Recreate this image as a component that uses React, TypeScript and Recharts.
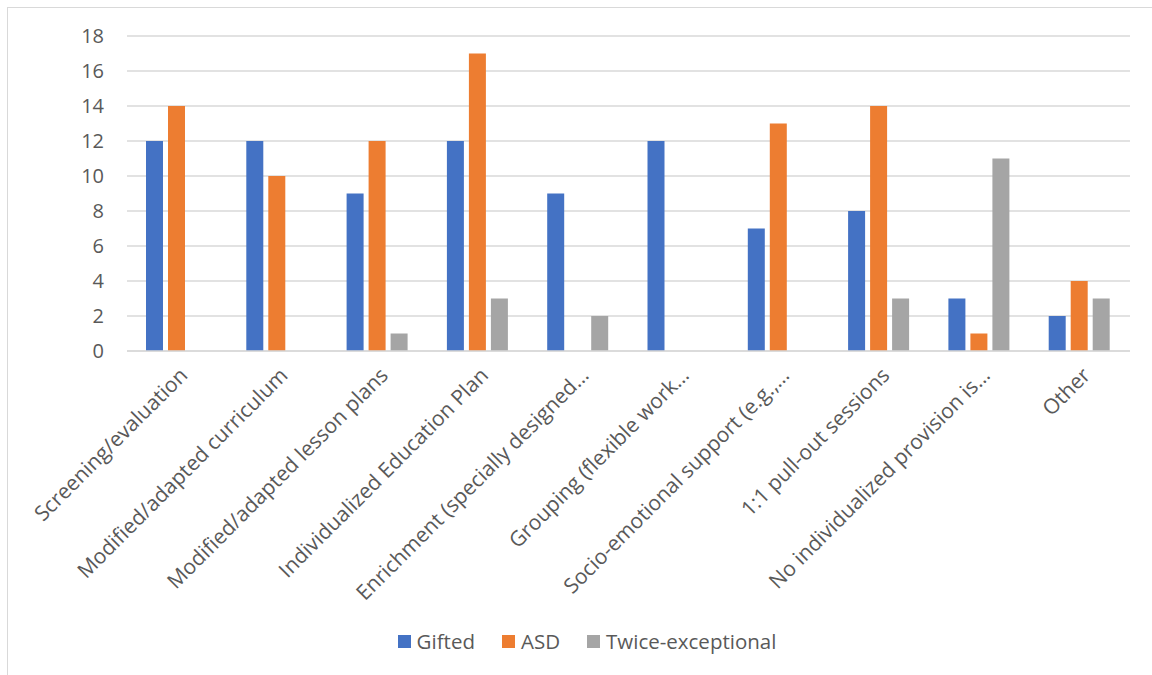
import React from "react";
import { BarChart, Bar, XAxis, YAxis, CartesianGrid } from "recharts";

const categories = [
  "Screening/evaluation",
  "Modified/adapted curriculum",
  "Modified/adapted lesson plans",
  "Individualized Education Plan",
  "Enrichment (specially designed…",
  "Grouping (flexible work…",
  "Socio-emotional support (e.g.,…",
  "1:1 pull-out sessions",
  "No individualized provision is…",
  "Other",
];
const gifted = [12, 12, 9, 12, 9, 12, 7, 8, 3, 2];
const asd = [14, 10, 12, 17, 0, 0, 13, 14, 1, 4];
const twice = [0, 0, 1, 3, 2, 0, 0, 3, 11, 3];
const yTicks = [0, 2, 4, 6, 8, 10, 12, 14, 16, 18];
const seriesNames = ["Gifted", "ASD", "Twice-exceptional"];
const seriesColors = ["#4472C4", "#ED7D31", "#A5A5A5"];

const data = categories.map((c, i) => ({
  name: c,
  Gifted: gifted[i],
  ASD: asd[i],
  "Twice-exceptional": twice[i],
}));

const FONT = "'Open Sans', sans-serif";
const TEXT = "#595959";

const XTick = (props: any) => {
  const { x, y, payload } = props;
  return (
    <g transform={`translate(${x + 6},${y + 12})`}>
      <text
        x={0}
        y={0}
        textAnchor="end"
        transform="rotate(-45)"
        fill={TEXT}
        fontSize={21}
        fontFamily={FONT}
        dominantBaseline="central"
      >
        {payload.value}
      </text>
    </g>
  );
};

export default function App() {
  return (
    <div style={{ position: "absolute", left: 0, top: 0, width: 1152, height: 675, background: "#fff", overflow: "hidden" }}>
      <div
        style={{
          position: "absolute",
          left: 7,
          top: 7,
          width: 1160,
          height: 700,
          borderLeft: "1.5px solid #d9d9d9",
          borderTop: "1.5px solid #d9d9d9",
        }}
      />
      <div style={{ position: "absolute", left: 0, top: 0 }}>
        <BarChart
          width={1152}
          height={675}
          data={data}
          margin={{ top: 36, right: 22, left: 0, bottom: 0 }}
          barCategoryGap={19}
          barGap={5}
        >
          <CartesianGrid vertical={false} stroke="#d9d9d9" strokeWidth={1.5} />
          <XAxis
            dataKey="name"
            interval={0}
            tick={<XTick />}
            tickLine={false}
            axisLine={{ stroke: "#d9d9d9", strokeWidth: 1.5 }}
            height={324}
          />
          <YAxis
            width={127}
            domain={[0, 18]}
            ticks={yTicks}
            tickLine={false}
            axisLine={false}
            tickSize={0}
            tickMargin={23}
            tick={{ fill: TEXT, fontSize: 20, fontFamily: FONT }}
          />
          <Bar dataKey="Gifted" fill={seriesColors[0]} isAnimationActive={false} />
          <Bar dataKey="ASD" fill={seriesColors[1]} isAnimationActive={false} />
          <Bar dataKey="Twice-exceptional" fill={seriesColors[2]} isAnimationActive={false} />
        </BarChart>
      </div>
      <div
        style={{
          position: "absolute",
          left: 0,
          top: 627,
          width: 1174,
          display: "flex",
          justifyContent: "center",
          alignItems: "center",
          fontFamily: FONT,
          fontSize: 20.5,
          color: TEXT,
          lineHeight: "28px",
        }}
      >
        {seriesNames.map((n, i) => (
          <div key={n} style={{ display: "flex", alignItems: "center", marginRight: i < 2 ? 27 : 0 }}>
            <span style={{ display: "inline-block", width: 13, height: 13, background: seriesColors[i], marginRight: 6 }} />
            <span>{n}</span>
          </div>
        ))}
      </div>
    </div>
  );
}
